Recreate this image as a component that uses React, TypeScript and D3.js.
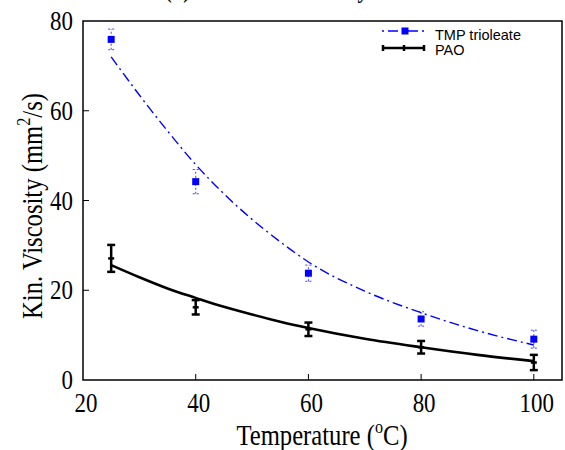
import React from 'react'
import * as d3 from 'd3'

const width = 565
const height = 450
const margin = { top: 21, right: 3, bottom: 70, left: 83 }

// measured points
const temps = [25, 40, 60, 80, 100]
const tmpVisc = [75.9, 44.2, 23.8, 13.6, 9.1]
const tmpErr = [2.3, 2.7, 1.8, 1.6, 2.0]
const paoVisc = [27.1, 16.2, 11.3, 7.3, 3.9]
const paoErr = [3.0, 1.6, 1.5, 1.4, 1.7]

// fitted curves
const fitTemps = [25, 30, 35, 40, 45, 50, 55, 60, 70, 80, 90, 100]
const tmpFit = [72, 63.5, 55.5, 48, 41.5, 35.8, 30.8, 26.3, 19.8, 15, 11, 7.8]
const paoFit = [25.6, 22.9, 20.4, 18.3, 16.3, 14.6, 13.0, 11.6, 9.2, 7.3, 5.6, 4.2]

const xTicks = [20, 40, 60, 80, 100]
const yTicks = [0, 20, 40, 60, 80]

const serif = '"Liberation Serif", "Times New Roman", serif'
const sans = '"Liberation Sans", Arial, sans-serif'
const squeeze = 0.85
const blue = '#0000ff'

export default function App() {
  const x = d3
    .scaleLinear()
    .domain([20, 105])
    .range([margin.left, width - margin.right])
  const y = d3
    .scaleLinear()
    .domain([0, 80])
    .range([height - margin.bottom, margin.top])

  const line = d3
    .line<number>()
    .x((d, i) => x(fitTemps[i]))
    .y((d) => y(d))
    .curve(d3.curveMonotoneX)

  const x0 = x.range()[0]
  const x1 = x.range()[1]
  const yb = y.range()[0]
  const yt = y.range()[1]

  return (
    <svg
      width={width}
      height={height}
      style={{ position: 'absolute', left: 0, top: 0, background: '#fff' }}
    >
      {/* title, mostly above the top edge */}
      <text
        transform={`translate(165,-2) scale(${squeeze},1)`}
        fontFamily={serif}
        fontWeight="bold"
        fontSize={24}
      >
        (b) Kinematic Viscosity
      </text>

      {/* fits */}
      <path
        d={line(tmpFit) || ''}
        fill="none"
        stroke={blue}
        strokeWidth={1.4}
        strokeDasharray="10,4,2,4"
      />
      <path d={line(paoFit) || ''} fill="none" stroke="#000" strokeWidth={2.6} />

      {/* TMP trioleate points */}
      {temps.map((t, i) => {
        const cx = x(t)
        const lo = y(tmpVisc[i] - tmpErr[i])
        const hi = y(tmpVisc[i] + tmpErr[i])
        return (
          <g key={'tmp' + i}>
            <g stroke={blue} strokeWidth={1} strokeDasharray="2,2" opacity={0.75}>
              <line x1={cx} x2={cx} y1={lo} y2={hi} />
              <line x1={cx - 3} x2={cx + 3} y1={lo} y2={lo} />
              <line x1={cx - 3} x2={cx + 3} y1={hi} y2={hi} />
            </g>
            <rect x={cx - 3.5} y={y(tmpVisc[i]) - 3.5} width={7} height={7} fill={blue} />
          </g>
        )
      })}

      {/* PAO points */}
      {temps.map((t, i) => {
        const cx = x(t)
        const lo = y(paoVisc[i] - paoErr[i])
        const hi = y(paoVisc[i] + paoErr[i])
        const cy = y(paoVisc[i])
        return (
          <g key={'pao' + i} stroke="#000" strokeWidth={2.5}>
            <line x1={cx} x2={cx} y1={lo} y2={hi} />
            <line x1={cx - 4} x2={cx + 4} y1={lo} y2={lo} />
            <line x1={cx - 4} x2={cx + 4} y1={hi} y2={hi} />
            <line x1={cx - 3} x2={cx + 3} y1={cy} y2={cy} />
          </g>
        )
      })}

      {/* frame */}
      <rect
        x={x0}
        y={yt}
        width={x1 - x0}
        height={yb - yt}
        fill="none"
        stroke="#000"
        strokeWidth={1.5}
      />

      {/* x ticks */}
      {xTicks.map((t) => (
        <g key={'xt' + t}>
          {t > 20 && <line x1={x(t)} x2={x(t)} y1={yb} y2={yb - 6} stroke="#000" strokeWidth={1} />}
          <text
            transform={`translate(${x(t) + 3},412) scale(${squeeze},1)`}
            textAnchor="middle"
            fontFamily={serif}
            fontSize={27}
          >
            {t}
          </text>
        </g>
      ))}

      {/* y ticks */}
      {yTicks.map((t) => (
        <g key={'yt' + t}>
          {t > 0 && t < 80 && (
            <line x1={x0} x2={x0 + 6} y1={y(t)} y2={y(t)} stroke="#000" strokeWidth={1} />
          )}
          <text
            transform={`translate(73,${y(t) + 9}) scale(${squeeze},1)`}
            textAnchor="end"
            fontFamily={serif}
            fontSize={27}
          >
            {t}
          </text>
        </g>
      ))}

      {/* axis titles */}
      <text
        transform={`translate(322,445) scale(${squeeze},1)`}
        textAnchor="middle"
        fontFamily={serif}
        fontSize={29}
      >
        Temperature (
        <tspan fontSize={19} dy={-12}>o</tspan>
        <tspan dy={12}>C)</tspan>
      </text>
      <text
        transform={`translate(42,206) rotate(-90) scale(${squeeze},1)`}
        textAnchor="middle"
        fontFamily={serif}
        fontSize={29}
      >
        Kin. Viscosity (mm
        <tspan fontSize={19} dy={-12}>2</tspan>
        <tspan dy={12}>/s)</tspan>
      </text>

      {/* legend */}
      <g>
        <line
          x1={382}
          x2={427}
          y1={31}
          y2={31}
          stroke={blue}
          strokeWidth={1.4}
          strokeDasharray="2,4,10,4"
        />
        <rect x={401.5} y={27.5} width={7} height={7} fill={blue} />
        <text x={435} y={39.5} fontFamily={sans} fontSize={14.5}>
          TMP trioleate
        </text>
        <g stroke="#000" strokeWidth={2.5}>
          <line x1={382} x2={425} y1={48} y2={48} />
          <line x1={383} x2={383} y1={45} y2={51} />
          <line x1={424} x2={424} y1={45} y2={51} />
          <line x1={404} x2={404} y1={45} y2={51} />
        </g>
        <text x={435} y={55} fontFamily={sans} fontSize={14.5}>
          PAO
        </text>
      </g>
    </svg>
  )
}
